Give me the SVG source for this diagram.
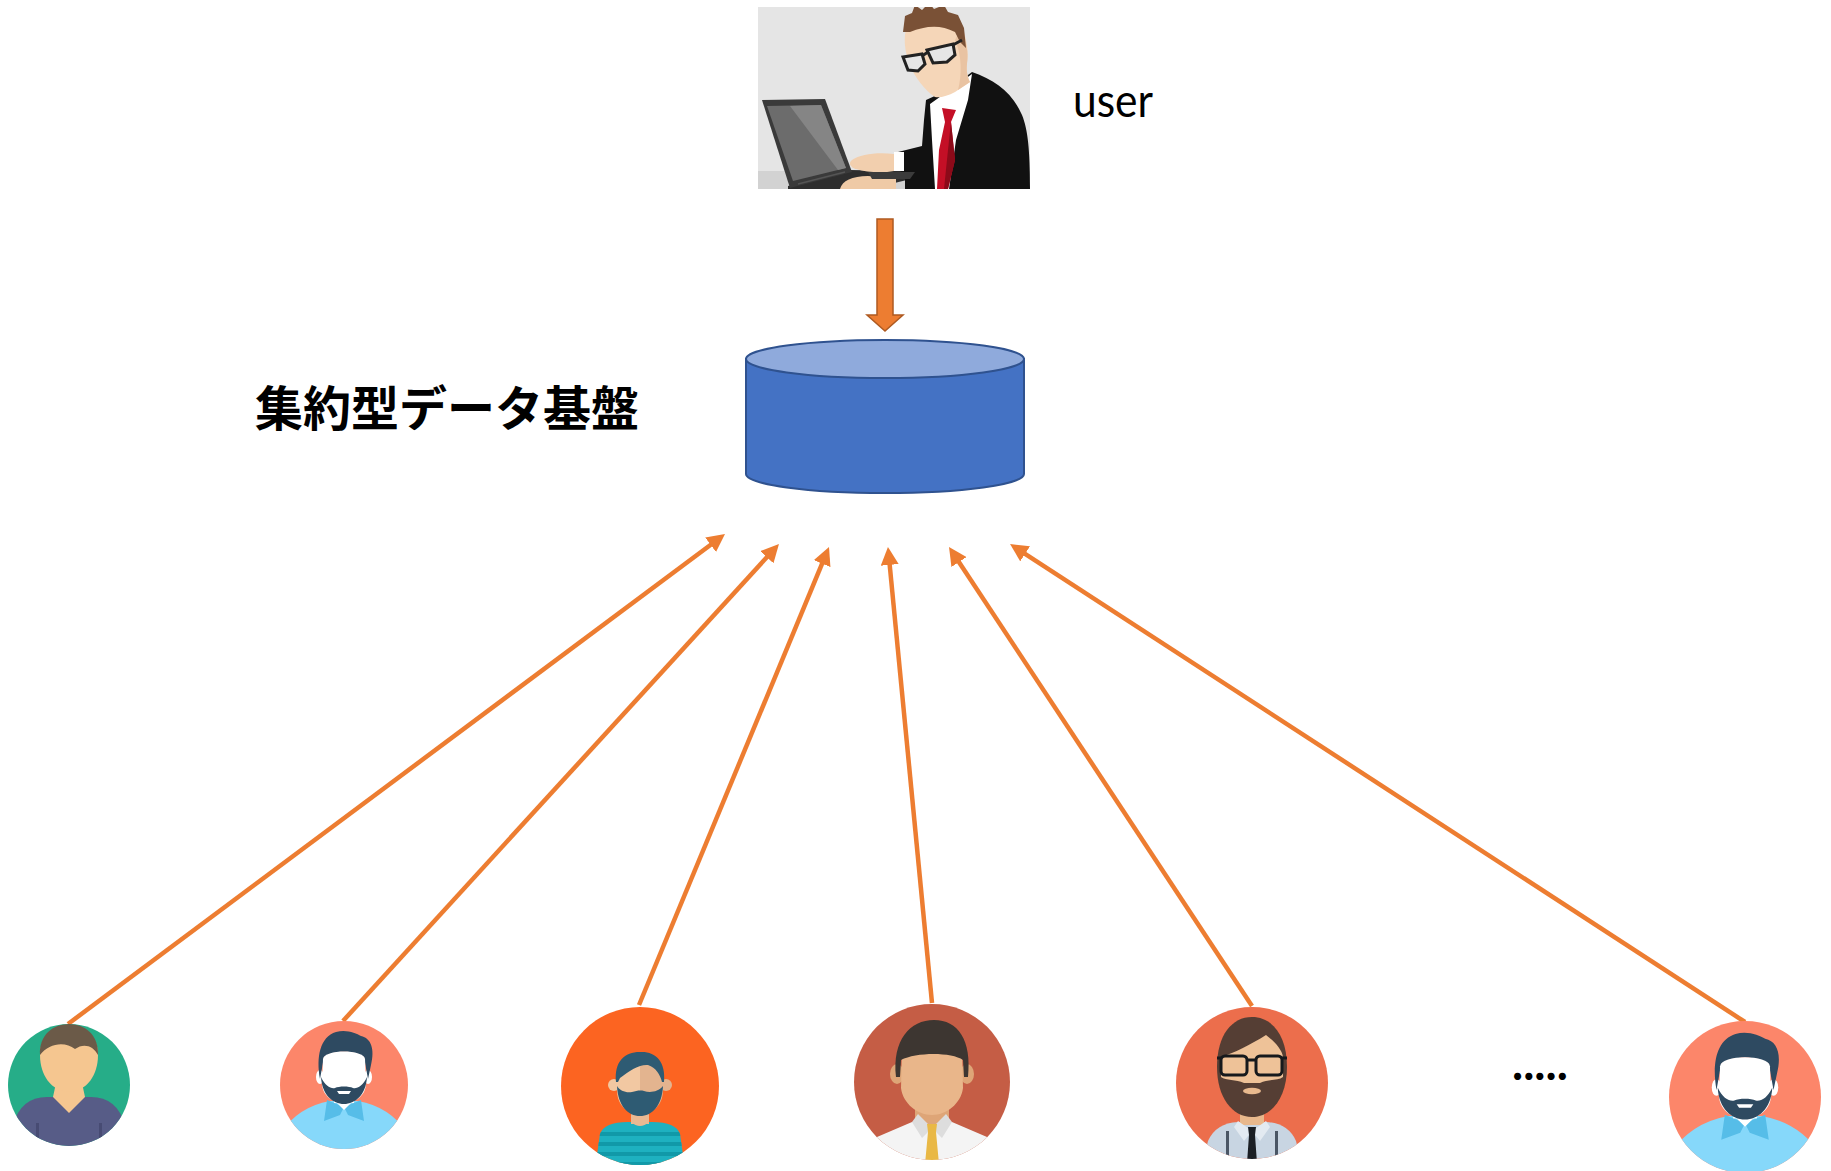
<svg xmlns="http://www.w3.org/2000/svg" width="1831" height="1171" viewBox="0 0 1831 1171">
  <style>
    .conn { stroke: #ED7D31; stroke-width: 4.5; fill: none; marker-end: url(#head); }
    .label { font-family: "Noto Sans CJK JP", "Noto Sans", sans-serif; font-weight: bold; fill: #000; }
    .latin { font-family: Lato, "Open Sans", "Liberation Sans", sans-serif; fill: #000; }
  </style>
  <defs>
    <marker id="head" markerUnits="userSpaceOnUse" markerWidth="18" markerHeight="18" refX="1" refY="9" orient="auto">
      <path d="M0,0 L18,9 L0,18 z" fill="#ED7D31"/>
    </marker>
    <clipPath id="userClip"><rect x="758" y="7" width="272" height="182"/></clipPath>
    <clipPath id="c61"><circle cx="0" cy="0" r="61"/></clipPath>
    <clipPath id="c64"><circle cx="0" cy="0" r="64"/></clipPath>
    <clipPath id="c79"><circle cx="0" cy="0" r="79"/></clipPath>
    <clipPath id="c78"><circle cx="0" cy="0" r="78"/></clipPath>
    <clipPath id="c76"><circle cx="0" cy="0" r="76"/></clipPath>
    <clipPath id="shirt3"><path d="M-40,48 Q-36,36 -12,36 L12,36 Q36,36 40,48 L46,90 L-46,90 z"/></clipPath>

    <!-- bearded man in blue shirt, drawn at radius 64 -->
    <g id="bluePerson">
      <circle cx="0" cy="0" r="64" fill="#FC866A"/>
      <g clip-path="url(#c64)">
        <path d="M-66,52 Q-48,22 -14,16 L14,16 Q48,22 66,52 L66,80 L-66,80 z" fill="#86D8FA"/>
        <path d="M-17,15 L-20,36 L-4,30 L0,22 z M17,15 L20,36 L4,30 L0,22 z" fill="#56BDE8"/>
        <rect x="-10" y="4" width="20" height="14" fill="#FFFFFF"/>
        <path d="M-11,14 L0,25 L11,14 z" fill="#FFFFFF"/>
        <ellipse cx="-24" cy="-8" rx="4" ry="7" fill="#FFFFFF"/>
        <ellipse cx="24" cy="-8" rx="4" ry="7" fill="#FFFFFF"/>
        <path d="M-24,-6 C-28,-28 -24,-48 -8,-53 C2,-56 12,-52 17,-49 C27,-47 31,-36 27,-20 L24,-6 L20,-28 C10,-35 -10,-35 -20,-28 z" fill="#2E4A61"/>
        <path d="M-21,-26 C-20,-36 20,-36 21,-26 L22,-2 C22,10 12,18 0,18 C-12,18 -22,10 -22,-2 z" fill="#FFFFFF"/>
        <path d="M-23,-8 C-22,10 -11,19 0,19 C11,19 22,10 23,-8 C19,1 13,4 9,3 C5,1 -5,1 -9,3 C-13,4 -19,1 -23,-8 z" fill="#2E4A61"/>
        <path d="M-7,6 L7,6 L5,9 L-5,9 z" fill="#FFFFFF"/>
      </g>
    </g>
  </defs>

  <rect x="0" y="0" width="1831" height="1171" fill="#FFFFFF"/>

  <!-- connectors -->
  <g id="connectors">
    <path d="M877,219 L893,219 L893,315 L903,315 L885,331 L867,315 L877,315 z" fill="#ED7D31" stroke="#AE5A21" stroke-width="1.5"/>
    <line class="conn" x1="68" y1="1024" x2="711.4" y2="544.2"/>
    <line class="conn" x1="343" y1="1021" x2="767.5" y2="556.5"/>
    <line class="conn" x1="639" y1="1005" x2="822.5" y2="562.7"/>
    <line class="conn" x1="932" y1="1003" x2="889.6" y2="563.9"/>
    <line class="conn" x1="1252" y1="1006" x2="958.4" y2="561.2"/>
    <line class="conn" x1="1745" y1="1022" x2="1024.3" y2="553.3"/>
  </g>

  <!-- user at a laptop -->
  <g id="user">
    <g clip-path="url(#userClip)">
      <rect x="758" y="7" width="272" height="182" fill="#E5E5E5"/>
      <rect x="758" y="171" width="272" height="18" fill="#D2D2D2"/>
      <!-- laptop -->
      <polygon points="788,186 850,170 905,171 915,178 870,189 788,189" fill="#2E2E2E"/>
      <polygon points="762,100 825,99 852,172 790,188" fill="#3A3A3A"/>
      <polygon points="767,106 821,105 846,168 793,181" fill="#6C6C6C"/>
      <polygon points="790,106 821,105 846,168 838,170" fill="#858585"/>
      <line x1="798" y1="184" x2="845" y2="172" stroke="#555" stroke-width="1.5"/>
      <!-- suit -->
      <path d="M926,100 L948,90 L972,72 C995,80 1012,92 1022,115 C1028,130 1030,150 1030,189 L905,189 L905,174 L898,170 L898,152 L922,146 L924,120 z" fill="#111111"/>
      <!-- shirt and tie -->
      <polygon points="930,104 972,74 968,100 956,140 949,189 935,189 932,140" fill="#FFFFFF"/>
      <polygon points="942,108 956,110 951,122 955,160 948,189 937,189 939,150 945,122" fill="#C40F26"/>
      <polygon points="951,122 955,160 948,189 944,189 948,150" fill="#8C0A19"/>
      <!-- hands -->
      <rect x="894" y="152" width="10" height="19" fill="#FFFFFF"/>
      <path d="M852,160 C860,154 878,152 894,154 L894,171 C884,173 868,173 856,169 C850,167 848,163 852,160 z" fill="#F2CFAE"/>
      <path d="M840,189 C842,181 852,176 868,176 L896,178 L896,189 z" fill="#EFCAA6"/>
      <path d="M868,172 L915,172 L910,179 L872,179 z" fill="#3B3B3B"/>
      <!-- head -->
      <path d="M905,35 C906,25 915,18 930,16 L960,22 C966,35 969,50 967,62 C966,72 968,78 970,82 L955,92 C948,96 940,98 935,97 C925,90 915,78 910,65 C906,55 904,45 905,35 z" fill="#F5D6B8"/>
      <path d="M960,30 C966,40 969,52 967,64 C966,72 968,78 970,82 L958,90 C962,75 962,55 955,40 z" fill="#E9C3A2"/>
      <path d="M903,32 L905,16 L912,13 L915,5 L922,10 L929,3 L934,9 L944,5 L948,12 L958,15 L964,28 L966,48 L960,42 L955,32 C940,24 925,26 910,32 z" fill="#7A5136"/>
      <!-- glasses -->
      <g fill="#E6E6E6" stroke="#222222" stroke-width="3">
        <path d="M903,57 L922,54 L925,64 L918,71 L908,70 z"/>
        <path d="M927,50 L953,44 L955,55 L947,62 L933,63 z"/>
      </g>
      <path d="M922,56 L928,52 M953,45 L962,40" stroke="#222222" stroke-width="3" fill="none"/>
    </g>
    <text class="latin" x="1073" y="117" font-size="46" textLength="80" lengthAdjust="spacingAndGlyphs">user</text>
  </g>

  <!-- central data store -->
  <g id="datastore">
    <path d="M746,359 L746,474 A139,19 0 0 0 1024,474 L1024,359 z" fill="#4472C4" stroke="#2F528F" stroke-width="2"/>
    <ellipse cx="885" cy="359" rx="139" ry="19" fill="#8FAADC" stroke="#2F528F" stroke-width="2"/>
    <text class="label" x="255" y="426" font-size="48">集約型データ基盤</text>
  </g>

  <!-- data sources -->
  <g id="person1" transform="translate(69,1085)">
    <circle r="61" fill="#26AD88"/>
    <g clip-path="url(#c61)">
      <path d="M-56,40 Q-48,12 -22,12 L22,12 Q48,12 56,40 L62,70 L-62,70 z" fill="#575C87"/>
      <rect x="-33" y="38" width="3" height="20" fill="#474B73"/>
      <rect x="30" y="38" width="3" height="20" fill="#474B73"/>
      <path d="M-13,-2 L13,-2 L16,12 L0,28 L-16,12 z" fill="#F5C690"/>
      <path d="M-29,-30 C-29,-10 -18,6 0,7 C18,6 29,-10 29,-30 C29,-50 15,-60 0,-60 C-15,-60 -29,-50 -29,-30 z" fill="#F5C690"/>
      <path d="M-29,-30 C-30,-50 -16,-61 0,-61 C16,-61 30,-50 29,-30 C24,-40 14,-42 6,-36 C-4,-44 -20,-42 -29,-30 z" fill="#6B5A48"/>
    </g>
  </g>

  <g id="person2" transform="translate(344,1085)">
    <use href="#bluePerson"/>
  </g>

  <g id="person3" transform="translate(640,1086)">
    <circle r="79" fill="#FC6421"/>
    <g clip-path="url(#c79)">
      <g clip-path="url(#shirt3)">
        <rect x="-50" y="30" width="100" height="60" fill="#1EB1C0"/>
        <g fill="#1199A8">
          <rect x="-50" y="46" width="100" height="4"/>
          <rect x="-50" y="56" width="100" height="4"/>
          <rect x="-50" y="66" width="100" height="4"/>
          <rect x="-50" y="76" width="100" height="4"/>
        </g>
      </g>
      <rect x="-9" y="24" width="18" height="14" fill="#E9B993"/>
      <path d="M-9,36 Q0,44 9,36 z" fill="#E9B993"/>
      <circle cx="-26" cy="-1" r="6" fill="#F2C8A2"/>
      <circle cx="26" cy="-1" r="6" fill="#E3B48F"/>
      <path d="M0,-30 L0,28 C-14,28 -23,18 -23,4 L-23,-14 C-23,-24 -14,-30 0,-30 z" fill="#F2C8A2"/>
      <path d="M0,-30 L0,28 C14,28 23,18 23,4 L23,-14 C23,-24 14,-30 0,-30 z" fill="#E3B48F"/>
      <path d="M-24,-4 C-26,-26 -14,-35 2,-34 C16,-34 26,-24 24,-4 L22,-4 C20,-12 16,-18 8,-21 C0,-22 -10,-16 -20,-8 L-22,-4 z" fill="#2E5B73"/>
      <path d="M-23,0 C-22,20 -12,30 0,30 C12,30 22,20 23,0 C18,6 10,7 4,5 C0,4 -4,5 -8,6 C-14,7 -20,5 -23,0 z" fill="#2E5B73"/>
    </g>
  </g>

  <g id="person4" transform="translate(932,1082)">
    <circle r="78" fill="#C55D45"/>
    <g clip-path="url(#c78)">
      <path d="M-62,58 L-20,40 L20,40 L62,58 L80,90 L-80,90 z" fill="#F4F4F4"/>
      <rect x="-17" y="18" width="34" height="26" fill="#DEA577"/>
      <path d="M-20,40 L-14,32 L0,46 L-10,56 z M20,40 L14,32 L0,46 L10,56 z" fill="#DDDDDD"/>
      <path d="M-5,42 L5,42 L4,50 L7,82 L-7,82 L-4,50 z" fill="#E9B845"/>
      <ellipse cx="-35" cy="-8" rx="7" ry="10" fill="#DEA577"/>
      <ellipse cx="35" cy="-8" rx="7" ry="10" fill="#DEA577"/>
      <path d="M-30,-35 C-30,-52 30,-52 30,-35 L31,6 C29,22 14,33 0,33 C-14,33 -29,22 -31,6 z" fill="#E9B68A"/>
      <path d="M-36,-5 C-40,-42 -22,-62 2,-62 C26,-62 40,-42 36,-5 L32,-5 L31,-22 C20,-30 -16,-30 -31,-22 L-32,-5 z" fill="#3D3631"/>
    </g>
  </g>

  <g id="person5" transform="translate(1252,1083)">
    <circle r="76" fill="#EC6E4C"/>
    <g clip-path="url(#c76)">
      <path d="M-44,58 Q-36,40 -14,39 L14,39 Q36,40 44,58 L52,90 L-52,90 z" fill="#C8D5E2"/>
      <rect x="-26" y="48" width="3" height="40" fill="#4A5665"/>
      <rect x="23" y="48" width="3" height="40" fill="#4A5665"/>
      <rect x="-12" y="22" width="24" height="20" fill="#E8B88C"/>
      <path d="M-14,38 L0,48 L-8,58 L-18,44 z M14,38 L0,48 L8,58 L18,44 z" fill="#E3EAF1"/>
      <path d="M-4,44 L4,44 L3,52 L5,80 L-5,80 L-3,52 z" fill="#1B1F24"/>
      <path d="M-35,-16 C-35,-48 -20,-66 0,-66 C20,-66 35,-48 35,-16 C35,14 20,34 0,34 C-20,34 -35,14 -35,-16 z" fill="#553E34"/>
      <path d="M-31,-26 C-18,-30 -2,-38 14,-48 C22,-42 30,-34 31,-26 L31,-6 C26,-2 16,-4 8,0 L-8,0 C-16,-4 -26,-2 -31,-6 z" fill="#EEC298"/>
      <ellipse cx="0" cy="8" rx="9" ry="3.2" fill="#E8B98E"/>
      <g fill="#EEC298" stroke="#16191C" stroke-width="3">
        <rect x="-31" y="-27" width="26" height="19" rx="4"/>
        <rect x="4" y="-27" width="26" height="19" rx="4"/>
      </g>
      <path d="M-5,-23 L4,-23 M-35,-25 L-31,-25 M30,-25 L35,-25" stroke="#16191C" stroke-width="3"/>
    </g>
  </g>

  <text class="latin" x="1512" y="1080" font-size="47" font-weight="bold" font-family="Liberation Sans, sans-serif">.....</text>

  <g id="person6" transform="translate(1745,1097) scale(1.1875)">
    <use href="#bluePerson"/>
  </g>
</svg>
